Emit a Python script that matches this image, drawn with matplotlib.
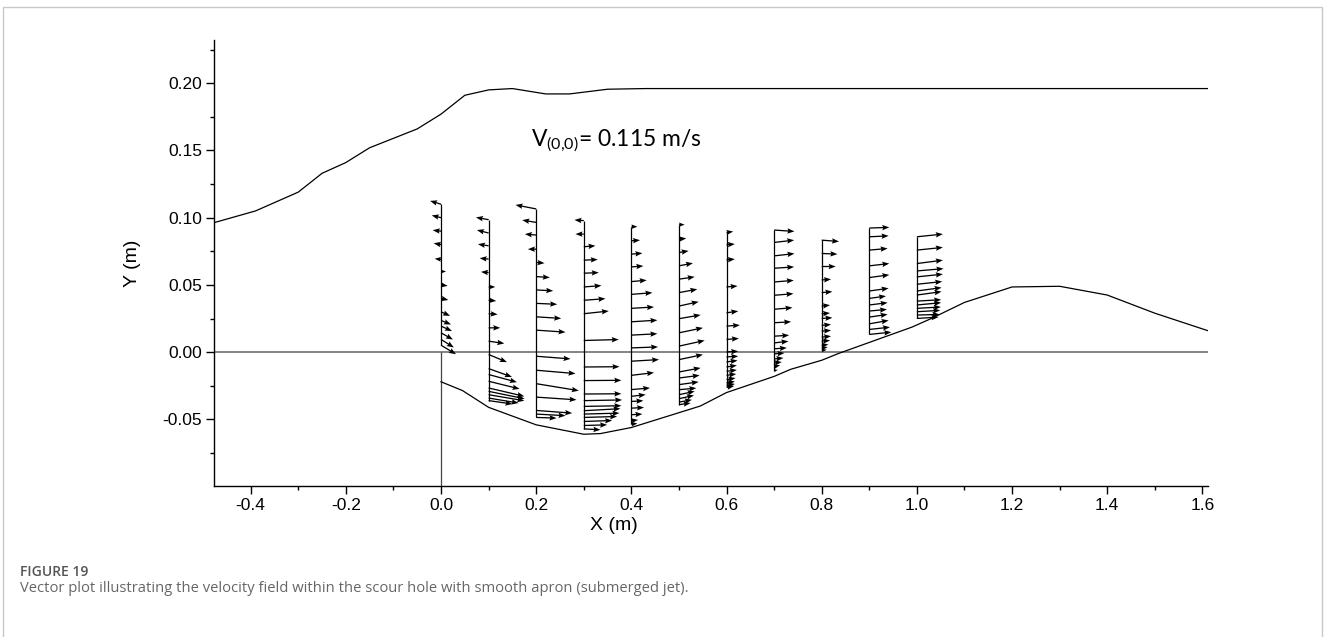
import matplotlib.pyplot as plt
import matplotlib as mpl
from matplotlib.patches import Rectangle
from matplotlib.ticker import MultipleLocator

mpl.rcParams.update({
    'font.family': ['Liberation Sans', 'DejaVu Sans'],
    'mathtext.default': 'regular',
    'xtick.direction': 'out',
    'ytick.direction': 'out',
    'axes.linewidth': 1.0,
})

# free surface and scoured bed profiles (m)
surface_x = [-0.48, -0.39, -0.30, -0.25, -0.20, -0.15, -0.05, 0.0, 0.05, 0.10, 0.15,
             0.22, 0.27, 0.35, 0.43, 0.55, 1.62]
surface_y = [0.096, 0.105, 0.119, 0.133, 0.141, 0.152, 0.166, 0.177, 0.191, 0.195, 0.196,
             0.192, 0.192, 0.1955, 0.196, 0.196, 0.196]

bed_x = [0.0, 0.045, 0.10, 0.20, 0.30, 0.335, 0.40, 0.545, 0.60, 0.70, 0.735, 0.80,
         0.835, 0.99, 1.03, 1.10, 1.20, 1.30, 1.40, 1.50, 1.62]
bed_y = [-0.022, -0.0285, -0.041, -0.054, -0.061, -0.0605, -0.056, -0.040, -0.030, -0.018,
         -0.0127, -0.006, -0.001, 0.0187, 0.025, 0.037, 0.0485, 0.049, 0.0425, 0.029, 0.015]

# measuring stations and velocity vectors (tail height y, scaled u, scaled v)
stations = [0.0, 0.1, 0.2, 0.3, 0.4, 0.5, 0.6, 0.7, 0.8, 0.9, 1.0]

y_00 = [0.110, 0.100, 0.090, 0.080, 0.069, 0.060, 0.050, 0.040, 0.030, 0.0236, 0.0194, 0.0144, 0.0095, 0.0052]
u_00 = [-0.023, -0.0196, -0.0175, -0.0154, -0.0133, 0.0105, 0.014, 0.0154, 0.019, 0.021, 0.023, 0.025, 0.027, 0.0315]
v_00 = [0.0025, 0.0017, 0.0007, 0.001, 0.0005, 0.0, -0.0007, -0.0012, -0.003, -0.003, -0.0037, -0.005, -0.006, -0.0067]

y_01 = [0.0985, 0.0886, 0.0791, 0.0692, 0.0592, 0.0485, 0.0386, 0.0286, 0.0181, 0.0082, -0.0017, -0.0122,
        -0.0166, -0.0216, -0.0266, -0.0291, -0.0316, -0.0341, -0.036]
u_01 = [-0.0266, -0.0245, -0.0224, -0.0189, -0.0161, 0.014, 0.016, 0.019, 0.0245, 0.033, 0.0385, 0.049,
        0.0595, 0.065, 0.075, 0.0756, 0.075, 0.063, 0.050]
v_01 = [0.0017, 0.0022, 0.0012, 0.0007, 0.0005, 0.0, -0.0005, -0.0005, 0.0, -0.0017, -0.0057, -0.0062,
        -0.0057, -0.0057, -0.0062, -0.0055, -0.0045, -0.0037, -0.0025]

y_02 = [0.1065, 0.0965, 0.0871, 0.0766, 0.0667, 0.0562, 0.0463, 0.0363, 0.0263, 0.0164, -0.003, -0.0134,
        -0.0234, -0.0334, -0.0433, -0.046, -0.0485]
u_02 = [-0.0434, -0.0294, -0.0238, -0.0175, 0.0175, 0.0287, 0.0357, 0.0441, 0.0525, 0.0616, 0.0721, 0.0826,
        0.0896, 0.0847, 0.0756, 0.0616, 0.0427]
v_02 = [0.003, 0.0017, 0.0007, 0.0, -0.0005, -0.0007, -0.0007, -0.0007, -0.0012, -0.0015, -0.002, -0.0025,
        -0.0052, -0.002, -0.002, -0.0012, -0.0005]

y_03 = [0.0978, 0.0878, 0.0784, 0.0684, 0.0587, 0.0485, 0.0386, 0.0286, 0.0087, -0.011, -0.0211, -0.0311,
        -0.036, -0.0403, -0.0435, -0.046, -0.0485, -0.0515, -0.0545, -0.057]
u_03 = [-0.0196, -0.0175, 0.0245, 0.0294, 0.0315, 0.0371, 0.0455, 0.0525, 0.0735, 0.075, 0.079, 0.079,
        0.0805, 0.079, 0.077, 0.075, 0.070, 0.0595, 0.049, 0.035]
v_03 = [0.0005, 0.0, 0.0007, 0.0005, 0.0005, 0.001, 0.0012, 0.002, 0.0007, 0.0002, 0.0002, 0.0002,
        0.0005, 0.0005, 0.0015, 0.0007, 0.0007, 0.0007, 0.0005, -0.0007]

y_04 = [0.0933, 0.0828, 0.0729, 0.0634, 0.0525, 0.043, 0.0326, 0.0226, 0.0127, 0.0032, -0.0067, -0.0172,
        -0.0278, -0.0328, -0.0366, -0.0416, -0.0465, -0.051, -0.0535]
u_04 = [0.0126, 0.0182, 0.0231, 0.0252, 0.0322, 0.0441, 0.0476, 0.0546, 0.0546, 0.056, 0.0581, 0.0476,
        0.0392, 0.030, 0.0252, 0.0266, 0.0231, 0.014, 0.0126]
v_04 = [0.0, 0.0005, 0.0007, 0.0007, 0.001, 0.0012, 0.001, 0.0012, 0.001, 0.0007, 0.0012, 0.002,
        0.0012, 0.0012, 0.0005, 0.0005, 0.0005, 0.0007, 0.0005]

y_05 = [0.0948, 0.0841, 0.0741, 0.0642, 0.0543, 0.0443, 0.0343, 0.0249, 0.0144, 0.0045, -0.0055, -0.0147,
        -0.0192, -0.0241, -0.0279, -0.0316, -0.0346, -0.0371, -0.039]
u_05 = [0.012, 0.0154, 0.0203, 0.0294, 0.033, 0.0385, 0.0413, 0.0455, 0.0504, 0.054, 0.0504, 0.0455,
        0.0434, 0.0413, 0.0364, 0.033, 0.0315, 0.0273, 0.0245]
v_05 = [0.0, 0.0005, 0.0012, 0.002, 0.0017, 0.0025, 0.0032, 0.0028, 0.0037, 0.0042, 0.0037, 0.003,
        0.002, 0.002, 0.0012, 0.0025, 0.0025, 0.0017, 0.0012]

y_06 = [0.089, 0.0799, 0.0687, 0.0485, 0.0293, 0.0194, 0.0095, 0.0002, -0.0035, -0.0072, -0.011, -0.0142,
        -0.0172, -0.0204, -0.0229, -0.0246, -0.0261]
u_06 = [0.014, 0.0175, 0.0175, 0.0231, 0.0245, 0.028, 0.0259, 0.0245, 0.0245, 0.0231, 0.0217, 0.0217,
        0.0203, 0.0189, 0.0175, 0.0175, 0.0161]
v_06 = [0.0007, 0.0005, 0.0005, 0.0007, 0.0012, 0.0007, 0.0007, 0.0005, 0.0005, 0.001, 0.0012, 0.001,
        0.001, 0.0012, 0.0012, 0.001, 0.001]

y_07 = [0.0908, 0.0816, 0.0716, 0.0624, 0.0522, 0.0423, 0.0319, 0.0219, 0.0119, 0.0069, 0.0025, -0.0013,
        -0.005, -0.008, -0.0107, -0.0137]
u_07 = [0.0427, 0.042, 0.0427, 0.042, 0.0413, 0.0406, 0.0385, 0.0357, 0.0315, 0.030, 0.0266, 0.0217,
        0.0196, 0.0161, 0.0126, 0.0077]
v_07 = [-0.001, 0.0017, 0.0017, 0.001, 0.0012, 0.0012, 0.0012, 0.0007, 0.0007, 0.0012, 0.0007, 0.0007,
        0.0007, 0.0007, 0.001, 0.0005]

y_08 = [0.0833, 0.0734, 0.0637, 0.0537, 0.0443, 0.0343, 0.0286, 0.0251, 0.0199, 0.0157, 0.0112, 0.0082,
        0.0052, 0.0032, 0.0013]
u_08 = [0.0364, 0.033, 0.0294, 0.0196, 0.0224, 0.0175, 0.0175, 0.0224, 0.0196, 0.0196, 0.0196, 0.0175,
        0.014, 0.0126, 0.0105]
v_08 = [-0.001, -0.0005, 0.0, 0.0005, 0.0007, 0.0007, 0.0005, 0.0005, 0.0007, 0.0005, 0.0007, 0.0005,
        0.0005, 0.0005, 0.0005]

y_09 = [0.0923, 0.0858, 0.0759, 0.0642, 0.0555, 0.0455, 0.040, 0.0351, 0.0306, 0.0261, 0.0211, 0.0169, 0.0132]
u_09 = [0.042, 0.0406, 0.0385, 0.042, 0.042, 0.0406, 0.035, 0.0385, 0.0371, 0.0385, 0.0406, 0.0434, 0.0462]
v_09 = [0.0005, 0.0007, 0.0012, 0.0017, 0.002, 0.002, 0.0017, 0.0017, 0.0012, 0.002, 0.0025, 0.0017, 0.0017]

y_10 = [0.0858, 0.0759, 0.0659, 0.0604, 0.056, 0.0505, 0.0455, 0.0425, 0.038, 0.0351, 0.0326, 0.0301,
        0.0276, 0.0251]
u_10 = [0.0546, 0.0546, 0.0546, 0.056, 0.0546, 0.0532, 0.0518, 0.0518, 0.051, 0.051, 0.0504, 0.049,
        0.0476, 0.0455]
v_10 = [0.002, 0.002, 0.0025, 0.0017, 0.002, 0.002, 0.0025, 0.0025, 0.001, 0.0017, 0.001, 0.001,
        0.0005, 0.001]

profiles_y = [y_00, y_01, y_02, y_03, y_04, y_05, y_06, y_07, y_08, y_09, y_10]
profiles_u = [u_00, u_01, u_02, u_03, u_04, u_05, u_06, u_07, u_08, u_09, u_10]
profiles_v = [v_00, v_01, v_02, v_03, v_04, v_05, v_06, v_07, v_08, v_09, v_10]

label_v = r'V$_{(0{,}0)}$= 0.115 m/s'
caption_head = 'FIGURE 19'
caption_text = 'Vector plot illustrating the velocity field within the scour hole with smooth apron (submerged jet).'

fig = plt.figure(figsize=(13.27, 6.37), dpi=100)
ax = fig.add_axes([0.1613, 0.237, 0.7491, 0.700])

ax.plot(surface_x, surface_y, color='black', lw=0.9, zorder=3)
ax.plot(bed_x, bed_y, color='black', lw=0.9, zorder=3)

x0, x1 = -0.477, 1.612
y0, y1 = -0.0995, 0.232
ax.hlines(0, x0, x1, color='#7a7a7a', lw=1.3, zorder=2)
ax.vlines(0, y0, 0, color='#444444', lw=0.9, zorder=2)

for xs, ys, us, vs in zip(stations, profiles_y, profiles_u, profiles_v):
    ax.vlines(xs, min(ys), max(ys), color='black', lw=0.9, zorder=3)
    ax.quiver([xs] * len(ys), ys, us, vs, angles='xy', scale_units='xy', scale=1,
              width=0.0013, headwidth=4.2, headlength=5.5, headaxislength=4.8,
              color='black', zorder=4)

ax.text(0.19, 0.157, label_v, fontsize=16.5, family=['Lato', 'DejaVu Sans'], va='center', ha='left')

ax.set_xlim(x0, x1)
ax.set_ylim(y0, y1)
ax.xaxis.set_major_locator(MultipleLocator(0.2))
ax.xaxis.set_minor_locator(MultipleLocator(0.1))
ax.yaxis.set_major_locator(MultipleLocator(0.05))
ax.yaxis.set_minor_locator(MultipleLocator(0.025))
ax.xaxis.set_major_formatter(mpl.ticker.FormatStrFormatter('%.1f'))
ax.yaxis.set_major_formatter(mpl.ticker.FormatStrFormatter('%.2f'))
ax.tick_params(which='major', length=6, width=1.0, labelsize=12.5, pad=2.5)
ax.tick_params(which='minor', length=3, width=1.0)
for s in ['top', 'right']:
    ax.spines[s].set_visible(False)

ax.text(0.402, -0.088, 'X (m)', transform=ax.transAxes, fontsize=14, ha='center', va='center')
ax.text(-0.0825, 0.5, 'Y (m)', transform=ax.transAxes, fontsize=14, ha='center', va='center',
        rotation=90)

fig.text(20 / 1327, 1 - 572 / 637, caption_head, fontsize=10, color='#555555',
         family=['Open Sans', 'DejaVu Sans'], weight='semibold', va='center')
fig.text(20 / 1327, 1 - 589 / 637, caption_text, fontsize=10.6, color='#666666',
         family=['Open Sans', 'DejaVu Sans'], va='center')

fig.patches.append(Rectangle((2.5 / 1327, -0.05), 1319.5 / 1327, 1.05 - 7 / 637,
                             transform=fig.transFigure, fill=False, edgecolor='#c8c8c8', lw=1.0))

fig.savefig('out.png', dpi=100)
